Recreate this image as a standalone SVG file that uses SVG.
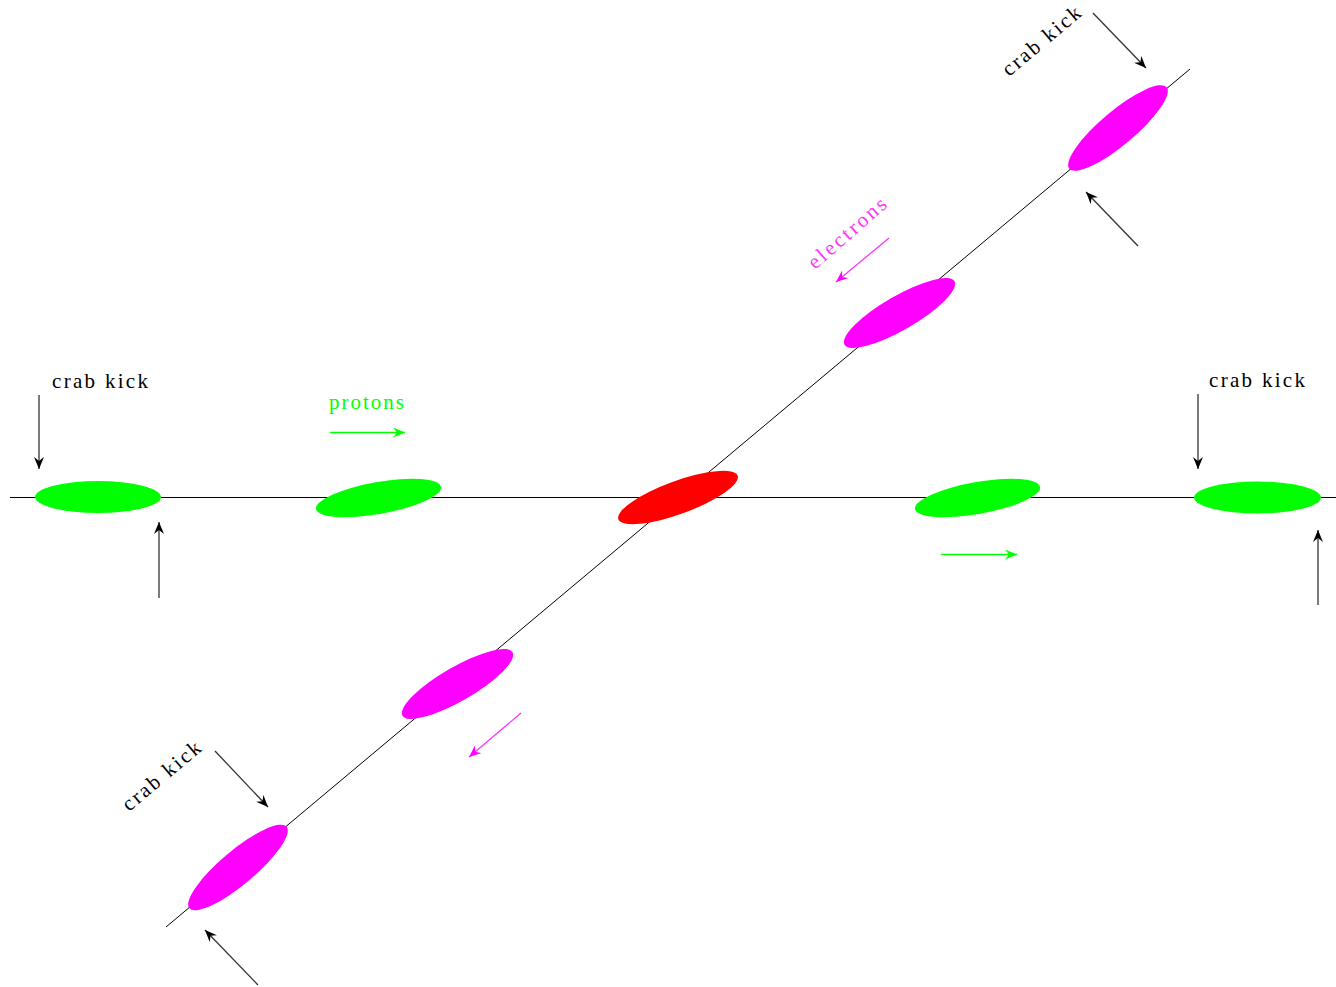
<svg xmlns="http://www.w3.org/2000/svg" width="1336" height="987" viewBox="0 0 1336 987">
<style>
.beam{stroke:#000;stroke-width:1;fill:none}
.kick{stroke:#333;stroke-width:1.3;fill:none;marker-end:url(#ahK)}
.parr{stroke:#00ff00;stroke-width:1.3;fill:none;marker-end:url(#ahG)}
.earr{stroke:#ff33ff;stroke-width:1.3;fill:none;marker-end:url(#ahM)}
.p{fill:#00ff00}
.e{fill:#ff00ff}
.x{fill:#ff0000}
.t{font-family:"Liberation Serif","DejaVu Serif",serif;font-size:21px}
</style>
<defs>
<marker id="ahK" markerUnits="userSpaceOnUse" markerWidth="13" markerHeight="10" refX="12" refY="5" orient="auto"><path d="M0,0 L12,5 L0,10 L4,5 z" fill="#000"/></marker>
<marker id="ahG" markerUnits="userSpaceOnUse" markerWidth="13" markerHeight="10" refX="12" refY="5" orient="auto"><path d="M0,0 L12,5 L0,10 L4,5 z" fill="#00ff00"/></marker>
<marker id="ahM" markerUnits="userSpaceOnUse" markerWidth="13" markerHeight="10" refX="12" refY="5" orient="auto"><path d="M0,0 L12,5 L0,10 L4,5 z" fill="#ff00ff"/></marker>
</defs>
<rect width="1336" height="987" fill="#fff"/>
<g id="connectors">
<line class="beam" x1="10" y1="497.5" x2="1336" y2="497.5"/>
<line class="beam" x1="166" y1="927" x2="1190" y2="69"/>
<line class="kick" x1="39" y1="395" x2="39" y2="469"/>
<line class="kick" x1="159" y1="598" x2="159" y2="522"/>
<line class="kick" x1="1198" y1="394" x2="1198" y2="469"/>
<line class="kick" x1="1318" y1="605" x2="1318" y2="530"/>
<line class="kick" x1="1093" y1="13" x2="1146" y2="68"/>
<line class="kick" x1="1138" y1="246" x2="1086" y2="192"/>
<line class="kick" x1="215" y1="751" x2="268" y2="807"/>
<line class="kick" x1="258" y1="985" x2="205" y2="930"/>
<line class="parr" x1="330" y1="432.5" x2="405" y2="432.5"/>
<line class="parr" x1="941" y1="554.5" x2="1017" y2="554.5"/>
<line class="earr" x1="889" y1="238" x2="836" y2="282"/>
<line class="earr" x1="521" y1="713" x2="469" y2="757"/>
</g>
<g id="proton1"><ellipse class="p" cx="98" cy="497" rx="63" ry="16"/></g>
<g id="proton2"><ellipse class="p" cx="378.5" cy="498" rx="63.5" ry="16" transform="rotate(-10 378.5 498)"/></g>
<g id="collision"><ellipse class="x" cx="678" cy="497.5" rx="63.5" ry="16.5" transform="rotate(-20 678 497.5)"/></g>
<g id="proton3"><ellipse class="p" cx="977.5" cy="498" rx="63.5" ry="16" transform="rotate(-10 977.5 498)"/></g>
<g id="proton4"><ellipse class="p" cx="1257.5" cy="497.5" rx="63.5" ry="16"/></g>
<g id="electron1"><ellipse class="e" cx="1118" cy="128" rx="63.5" ry="17" transform="rotate(-40 1118 128)"/></g>
<g id="electron2"><ellipse class="e" cx="899.5" cy="313" rx="63.5" ry="17" transform="rotate(-30 899.5 313)"/></g>
<g id="electron3"><ellipse class="e" cx="457.5" cy="684" rx="63.5" ry="17" transform="rotate(-30 457.5 684)"/></g>
<g id="electron4"><ellipse class="e" cx="238" cy="867.5" rx="63.5" ry="17" transform="rotate(-40 238 867.5)"/></g>
<g id="labels">
<text class="t" x="52" y="388" fill="#000" textLength="96" lengthAdjust="spacing">crab kick</text>
<text class="t" x="1209" y="387" fill="#000" textLength="96" lengthAdjust="spacing">crab kick</text>
<text class="t" x="329" y="409" fill="#00ff00" textLength="75" lengthAdjust="spacing">protons</text>
<text class="t" transform="translate(1009 77) rotate(-40)" fill="#000" textLength="96" lengthAdjust="spacing">crab kick</text>
<text class="t" transform="translate(129 812) rotate(-40)" fill="#000" textLength="96" lengthAdjust="spacing">crab kick</text>
<text class="t" transform="translate(815 270) rotate(-41)" fill="#ff33ff" textLength="97" lengthAdjust="spacing">electrons</text>
</g>
</svg>
